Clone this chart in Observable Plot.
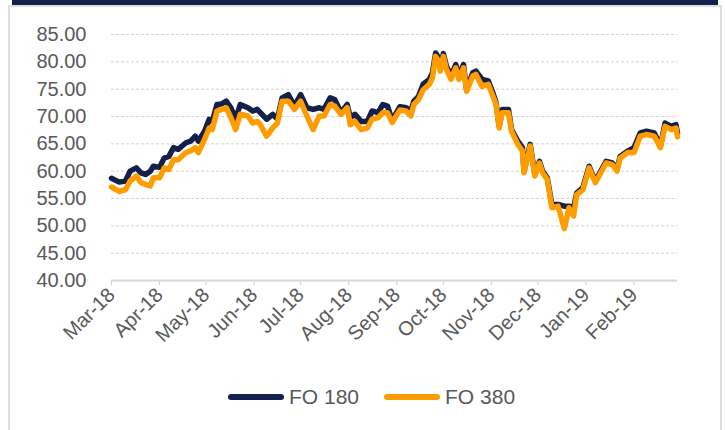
<!DOCTYPE html>
<html><head><meta charset="utf-8">
<script src="https://cdn.jsdelivr.net/npm/d3@7"></script>
<script src="https://cdn.jsdelivr.net/npm/@observablehq/plot@0.6"></script>
<style>
body{margin:0;background:#fff;font-family:"Liberation Sans",Arial,sans-serif;}
#wrap{position:relative;width:725px;height:430px;overflow:hidden;background:#fff;}
#bar{position:absolute;left:12px;top:0;width:706px;height:5px;background:#13204a;}
#frame{position:absolute;left:8px;top:5px;width:714px;height:440px;border:2px solid #dedede;box-sizing:border-box;}
#chart{position:absolute;left:0;top:0;}
#legend{position:absolute;top:384px;left:228px;height:26px;display:flex;align-items:center;font-size:21px;color:#595959;}
#legend .item{display:flex;align-items:center;margin-right:25px;}
#legend svg{margin-right:5px;}
</style>
</head><body>
<div id="wrap">
  <div id="frame"></div>
  <div id="bar"></div>
  <div id="chart"></div>
  <div id="legend"></div>
</div>
<script>
const seriesNames = ["FO 180", "FO 380"];
const seriesColors = ["#13204a", "#ff9c00"];
const yTicks = [40, 45, 50, 55, 60, 65, 70, 75, 80, 85];
const dates = ["2018-03-01","2018-03-06","2018-03-10","2018-03-13","2018-03-17","2018-03-20","2018-03-23","2018-03-26","2018-03-28","2018-04-01",
"2018-04-04","2018-04-07","2018-04-10","2018-04-13","2018-04-18","2018-04-21","2018-04-24","2018-04-26","2018-04-30","2018-05-03",
"2018-05-05","2018-05-08","2018-05-11","2018-05-14","2018-05-17","2018-05-20","2018-05-23","2018-05-28","2018-05-31","2018-06-03",
"2018-06-05","2018-06-09","2018-06-13","2018-06-16","2018-06-19","2018-06-23","2018-06-27","2018-07-01","2018-07-05","2018-07-09",
"2018-07-13","2018-07-16","2018-07-20","2018-07-23","2018-07-27","2018-07-31","2018-08-02","2018-08-05","2018-08-09","2018-08-13",
"2018-08-16","2018-08-20","2018-08-23","2018-08-26","2018-08-29","2018-09-03","2018-09-07","2018-09-10","2018-09-12","2018-09-15",
"2018-09-18","2018-09-22","2018-09-24","2018-09-26","2018-09-28","2018-09-29","2018-10-01","2018-10-03","2018-10-06","2018-10-09",
"2018-10-11","2018-10-14","2018-10-16","2018-10-20","2018-10-22","2018-10-26","2018-10-30","2018-11-02","2018-11-04","2018-11-06",
"2018-11-08","2018-11-12","2018-11-14","2018-11-18","2018-11-21","2018-11-22","2018-11-26","2018-11-29","2018-12-02","2018-12-04",
"2018-12-07","2018-12-10","2018-12-14","2018-12-18","2018-12-21","2018-12-24","2018-12-26","2018-12-30","2019-01-03","2019-01-07",
"2019-01-14","2019-01-18","2019-01-21","2019-01-23","2019-01-28","2019-02-01","2019-02-05","2019-02-09","2019-02-14","2019-02-18",
"2019-02-21","2019-02-25","2019-02-28","2019-03-01"];
const fo180 = [58.7,58.0,58.2,60.0,60.6,59.7,59.4,60.0,60.9,60.7,
62.4,62.7,64.3,64.0,65.2,65.5,66.4,65.5,67.3,69.5,
69.1,72.2,72.3,72.8,71.6,69.5,72.2,71.6,71.0,71.3,
70.7,69.5,70.4,69.5,73.4,74.0,71.9,74.0,71.6,71.3,
71.6,71.3,73.4,73.1,70.7,72.2,69.8,70.4,69.1,69.1,
71.0,70.7,72.2,71.9,69.3,71.8,71.6,71.0,72.8,73.7,
75.9,76.8,78.0,81.6,80.7,78.9,81.5,79.2,77.4,79.5,
77.4,79.5,74.9,78.0,78.3,76.8,76.5,74.3,72.5,68.2,
71.3,71.3,67.6,65.5,64.3,60.0,64.9,59.4,61.8,60.0,
58.8,53.9,53.9,53.6,53.6,53.3,56.0,57.0,60.9,58.2,
61.8,61.5,60.3,62.7,63.7,64.3,67.0,67.3,67.0,64.6,
68.8,68.2,68.5,67.0];
const fo380 = [57.1,56.3,56.6,58.2,59.1,57.9,57.6,57.3,58.8,58.8,
60.6,60.3,62.1,62.1,63.4,63.7,64.3,63.4,65.8,67.9,
67.6,71.0,71.3,71.6,69.8,67.6,70.4,70.1,68.8,69.1,
68.5,66.4,67.9,68.8,72.8,72.8,71.3,72.8,70.1,67.6,
70.1,70.1,72.2,71.9,70.4,71.6,68.5,69.1,67.6,67.9,
69.5,69.8,70.7,70.7,68.9,71.2,71.0,70.1,72.2,73.1,
74.9,75.9,77.1,81.0,80.1,78.3,81.0,78.6,76.8,78.9,
76.8,78.9,74.6,77.4,77.7,75.5,75.9,73.7,72.2,67.9,
70.7,70.7,67.3,64.9,63.7,59.7,64.6,59.1,61.5,59.7,
58.5,53.3,53.6,49.5,53.3,51.8,55.7,56.6,60.6,57.9,
61.5,61.2,60.0,62.4,63.4,63.4,66.4,66.7,66.4,64.3,
68.2,67.6,67.9,66.3];

const data = dates.map((d, i) => ({date: new Date(d + "T00:00:00Z"), fo180: fo180[i], fo380: fo380[i]}));
const start = new Date("2018-03-01T00:00:00Z"), end = new Date("2019-03-01T00:00:00Z");
const months = d3.utcMonths(start, end);

const chart = Plot.plot({
  width: 725, height: 370,
  marginLeft: 111, marginRight: 48, marginTop: 34, marginBottom: 90,
  style: {fontFamily: "'Liberation Sans', Arial, sans-serif", fontSize: "20px", color: "#595959", background: "transparent", overflow: "visible"},
  x: {type: "utc", domain: [start, end]},
  y: {domain: [40, 85]},
  marks: [
    Plot.ruleY(yTicks.filter(v => v > 40), {stroke: "#d2d2d2", strokeDasharray: "3,2", strokeWidth: 1}),
    Plot.axisY({ticks: yTicks, tickFormat: d => d.toFixed(2), tickSize: 0, tickPadding: 25, fill: "#595959", fontSize: 20, label: null}),
    Plot.axisX({ticks: months, tickFormat: d3.utcFormat("%b-%y"), tickSize: 5, tickPadding: 6, tickRotate: -45, stroke: "#d0d0d0", fill: "#595959", fontSize: 20, label: null}),
    Plot.ruleY([40], {stroke: "#d6d6d6", strokeWidth: 2}),
    Plot.line(data, {x: "date", y: "fo180", stroke: seriesColors[0], strokeWidth: 5.5, strokeLinejoin: "round"}),
    Plot.line(data, {x: "date", y: "fo380", stroke: seriesColors[1], strokeWidth: 5.5, strokeLinejoin: "round"})
  ]
});
document.getElementById("chart").appendChild(chart);

const legend = document.getElementById("legend");
seriesNames.forEach((name, i) => {
  const item = document.createElement("div");
  item.className = "item";
  item.innerHTML = `<svg width="56" height="8"><line x1="3" y1="4" x2="53" y2="4" stroke="${seriesColors[i]}" stroke-width="6" stroke-linecap="round"/></svg><span>${name}</span>`;
  legend.appendChild(item);
});
</script>
</body></html>
